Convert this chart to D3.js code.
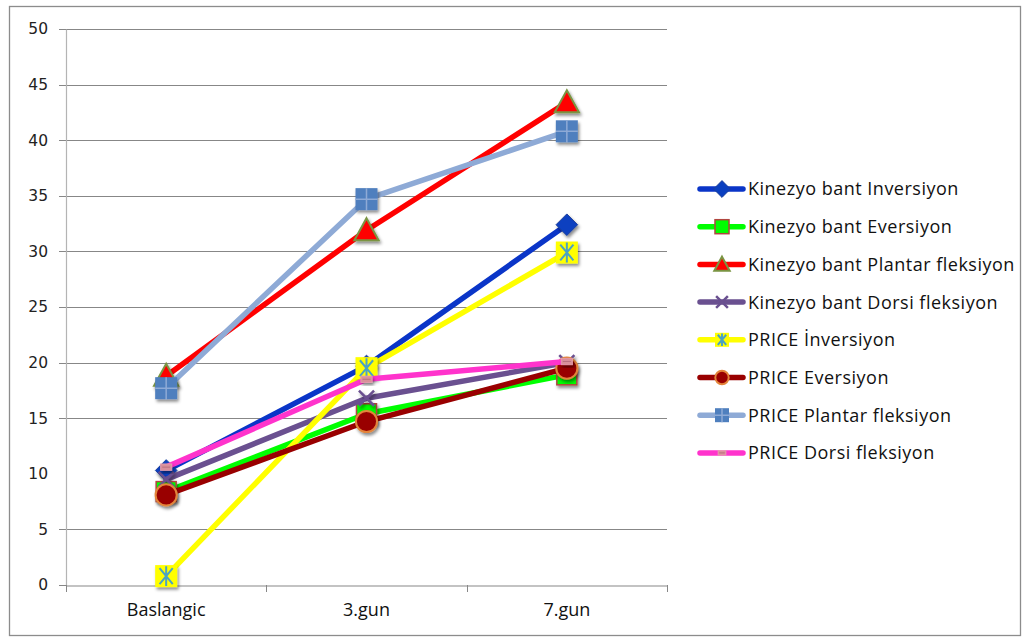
<!DOCTYPE html>
<html>
<head>
<meta charset="utf-8">
<script src="https://cdn.jsdelivr.net/npm/d3@7"></script>
<style>
  html, body { margin: 0; padding: 0; background: #fff; }
  svg { display: block; }
</style>
</head>
<body>
<svg id="chart" width="1028" height="638"></svg>
<script>
// Categories and measurement series
const categories = ["Baslangic", "3.gun", "7.gun"];
const yTicks = [0, 5, 10, 15, 20, 25, 30, 35, 40, 45, 50];

const seriesNames = [
  "Kinezyo bant Inversiyon",
  "Kinezyo bant Eversiyon",
  "Kinezyo bant Plantar fleksiyon",
  "Kinezyo bant Dorsi fleksiyon",
  "PRICE İnversiyon",
  "PRICE Eversiyon",
  "PRICE Plantar fleksiyon",
  "PRICE Dorsi fleksiyon"
];

const kbInversiyon = [10.3, 19.7, 32.4];
const kbEversiyon  = [8.4, 15.4, 18.9];
const kbPlantar    = [18.8, 31.9, 43.4];
const kbDorsi      = [9.5, 16.8, 20.0];
const prInversiyon = [0.8, 19.5, 29.9];
const prEversiyon  = [8.1, 14.7, 19.5];
const prPlantar    = [17.7, 34.7, 40.8];
const prDorsi      = [10.6, 18.5, 20.1];

const seriesValues = [kbInversiyon, kbEversiyon, kbPlantar, kbDorsi,
                      prInversiyon, prEversiyon, prPlantar, prDorsi];

// Visual style per series
const styles = [
  { line: "#0a35c8", marker: "diamond",  fill: "#0a3fc0", stroke: "#1c3f9a" },
  { line: "#00ff00", marker: "square",   fill: "#00ff00", stroke: "#b0463f" },
  { line: "#ff0000", marker: "triangle", fill: "#ff0000", stroke: "#7a9442" },
  { line: "#6a5090", marker: "x",        fill: "none",    stroke: "#6a5090" },
  { line: "#ffff00", marker: "star",     fill: "#ffff00", stroke: "#4ba3c3" },
  { line: "#990000", marker: "circle",   fill: "#990000", stroke: "#e3843a" },
  { line: "#8eaad6", marker: "plus",     fill: "#4f7fbe", stroke: "#8eaad6" },
  { line: "#ff33cc", marker: "dash",     fill: "#d9909a", stroke: "#d9909a" }
];

const svg = d3.select("#chart");

// Drop shadow used under the markers
const defs = svg.append("defs");
const f = defs.append("filter").attr("id", "shadow")
  .attr("x", "-50%").attr("y", "-50%").attr("width", "200%").attr("height", "200%");
f.append("feDropShadow").attr("dx", 1.5).attr("dy", 2.5).attr("stdDeviation", 1.6)
  .attr("flood-color", "#000").attr("flood-opacity", 0.45);

// Outer frame
svg.append("rect").attr("x", 9.5).attr("y", 6.5).attr("width", 1011).attr("height", 629)
  .attr("fill", "none").attr("stroke", "#8c8c8c").attr("stroke-width", 1.3);

const plot = { left: 66, right: 667, top: 29, bottom: 585 };

const x = d3.scaleBand().domain(categories).range([plot.left, plot.right]);
const y = d3.scaleLinear().domain([0, 50]).range([plot.bottom, plot.top]);
const cx = c => x(c) + x.bandwidth() / 2;

// Horizontal gridlines
svg.append("g").selectAll("line")
  .data(yTicks.filter(t => t !== 0 && t !== 10))
  .join("line")
  .attr("x1", plot.left - 7).attr("x2", plot.right)
  .attr("y1", d => Math.round(y(d)) + 0.5).attr("y2", d => Math.round(y(d)) + 0.5)
  .attr("stroke", "#878787").attr("stroke-width", 1);

// Y axis
const yAxis = svg.append("g").attr("transform", `translate(${plot.left},0)`)
  .call(d3.axisLeft(y).tickValues(yTicks).tickSize(0).tickPadding(18).tickFormat(d3.format("d")));
yAxis.select(".domain").attr("stroke", "#b4b4b4").attr("stroke-width", 1.2);
yAxis.selectAll("text").attr("font-family", "DejaVu Sans").attr("font-size", 15.5).attr("fill", "#222");
svg.append("line").attr("x1", plot.left - 7).attr("x2", plot.left)
  .attr("y1", plot.bottom + 0.5).attr("y2", plot.bottom + 0.5).attr("stroke", "#878787");

// X axis
const xAxis = svg.append("g").attr("transform", `translate(0,${plot.bottom + 0.5})`)
  .call(d3.axisBottom(x).tickSize(0).tickPadding(18));
xAxis.select(".domain").attr("stroke", "#878787").attr("stroke-width", 1.2);
xAxis.selectAll("text").attr("font-family", "Open Sans").attr("font-size", 18).attr("fill", "#111");
// Tick marks between categories
svg.append("g").selectAll("line")
  .data(categories.map(c => x(c)).concat([plot.right]))
  .join("line")
  .attr("x1", d => Math.round(d) + 0.5).attr("x2", d => Math.round(d) + 0.5)
  .attr("y1", plot.bottom).attr("y2", plot.bottom + 7)
  .attr("stroke", "#878787");

// Marker drawing helper
function drawMarker(g, type, st, size) {
  const s = size;
  if (type === "diamond") {
    g.append("path").attr("d", `M0,${-s*0.6} L${s*0.6},0 L0,${s*0.6} L${-s*0.6},0 Z`)
      .attr("fill", st.fill).attr("stroke", st.stroke).attr("stroke-width", 1);
  } else if (type === "square") {
    g.append("rect").attr("x", -s/2).attr("y", -s/2).attr("width", s).attr("height", s)
      .attr("fill", st.fill).attr("stroke", st.stroke).attr("stroke-width", 1.5);
  } else if (type === "triangle") {
    g.append("path").attr("d", `M0,${-s*0.55} L${s*0.55},${s*0.45} L${-s*0.55},${s*0.45} Z`)
      .attr("fill", st.fill).attr("stroke", st.stroke).attr("stroke-width", 2);
  } else if (type === "x") {
    const h = s * 0.42;
    g.append("path").attr("d", `M${-h},${-h} L${h},${h} M${h},${-h} L${-h},${h}`)
      .attr("stroke", st.stroke).attr("stroke-width", 2.5).attr("fill", "none");
  } else if (type === "star") {
    g.append("rect").attr("x", -s/2).attr("y", -s/2).attr("width", s).attr("height", s)
      .attr("fill", st.fill);
    const h = s * 0.45, w = s * 0.3;
    g.append("path").attr("d", `M0,${-h} L0,${h} M${-w},${-h*0.8} L${w},${h*0.8} M${w},${-h*0.8} L${-w},${h*0.8}`)
      .attr("stroke", st.stroke).attr("stroke-width", 2).attr("fill", "none");
  } else if (type === "circle") {
    g.append("circle").attr("r", s * 0.48)
      .attr("fill", st.fill).attr("stroke", st.stroke).attr("stroke-width", 2);
  } else if (type === "plus") {
    g.append("rect").attr("x", -s/2).attr("y", -s/2).attr("width", s).attr("height", s)
      .attr("fill", st.fill);
    g.append("path").attr("d", `M0,${-s/2} L0,${s/2} M${-s/2},0 L${s/2},0`)
      .attr("stroke", st.stroke).attr("stroke-width", 1.5);
  } else if (type === "dash") {
    g.append("rect").attr("x", -s*0.28).attr("y", -s*0.16).attr("width", s*0.56).attr("height", s*0.32)
      .attr("fill", st.fill).attr("stroke", "#e6a0b0").attr("stroke-width", 0.8);
    g.append("line").attr("x1", -s*0.2).attr("x2", s*0.2).attr("y1", 0).attr("y2", 0)
      .attr("stroke", "#b87080").attr("stroke-width", 1);
  }
}

const markerSize = [18, 20, 22, 18, 22, 22, 22, 20];

const line = d3.line().x((d, i) => cx(categories[i])).y(d => y(d));

// Series: line then markers, in order
seriesValues.forEach((vals, si) => {
  const st = styles[si];
  const g = svg.append("g").attr("class", "series");
  g.append("path").datum(vals).attr("d", line)
    .attr("fill", "none").attr("stroke", st.line).attr("stroke-width", 5.5)
    .attr("stroke-linejoin", "round").attr("stroke-linecap", "round");
  vals.forEach((v, i) => {
    const m = g.append("g").attr("transform", `translate(${cx(categories[i])},${y(v)})`)
      .attr("filter", "url(#shadow)");
    drawMarker(m, st.marker, st, markerSize[si]);
  });
});

// Legend
const legend = svg.append("g");
const legendTop = 189, legendStep = 37.7;
seriesNames.forEach((name, i) => {
  const st = styles[i];
  const ly = legendTop + i * legendStep;
  const g = legend.append("g").attr("transform", `translate(0,${ly})`);
  g.append("line").attr("x1", 700).attr("x2", 743).attr("y1", 0).attr("y2", 0)
    .attr("stroke", st.line).attr("stroke-width", 5.5).attr("stroke-linecap", "round");
  const m = g.append("g").attr("transform", "translate(722,0)");
  drawMarker(m, st.marker, st, 14);
  g.append("text").attr("x", 748).attr("y", 0).attr("dy", "0.36em")
    .attr("font-family", "Open Sans").attr("font-size", 18).attr("fill", "#111")
    .attr("letter-spacing", 0.5)
    .text(name);
});
</script>
</body>
</html>
